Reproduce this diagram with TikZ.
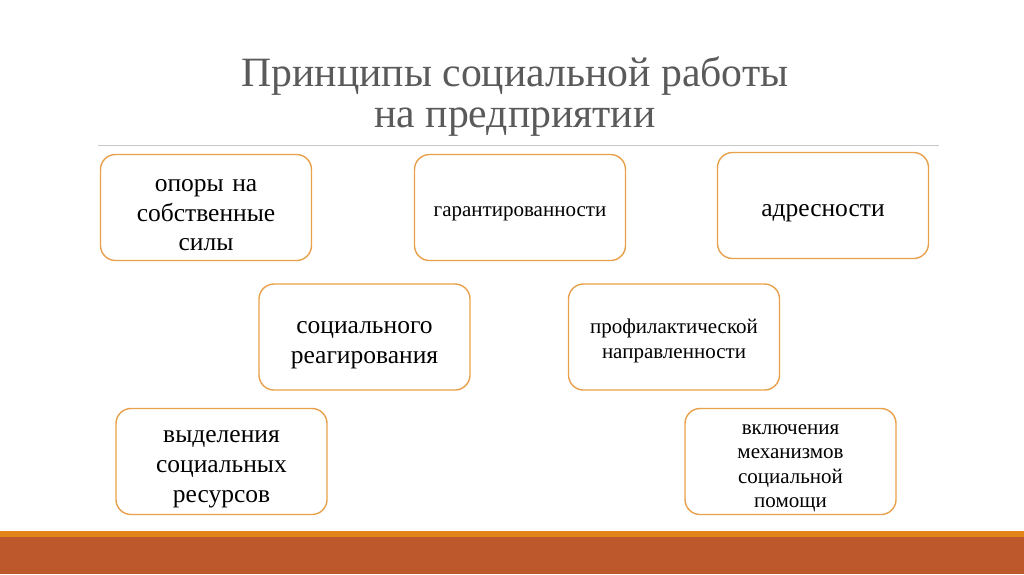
\documentclass[tikz,border=0pt]{standalone}
\usepackage{fontspec}
\setmainfont{Liberation Serif}
\usetikzlibrary{positioning}
\definecolor{boxLine}{HTML}{E8A04A}
\definecolor{titleGray}{HTML}{5A5A5A}
\definecolor{ruleGray}{HTML}{C8C8C8}
\definecolor{barLight}{HTML}{E2841A}
\definecolor{barDark}{HTML}{BD582C}
\tikzset{
    principle/.style = {
        draw=boxLine, line width=1.4pt, rounded corners=15pt,
        fill=white, align=center,
        minimum width=211pt, minimum height=106pt,
        text width=205pt, inner sep=0pt,
        font=\fontsize{25.5}{29.5}\selectfont,
        execute at begin node={\rule{0pt}{1.1em}}
    },
    smallprinciple/.style = {
        principle, font=\fontsize{21}{#1}\selectfont
    },
    smallprinciple/.default={25}
}

\begin{document}
\begin{tikzpicture}[x=1pt, y=-1pt]
    \useasboundingbox (0,0) rectangle (1024,574);
    \fill[white] (0,0) rectangle (1024,574);
    % bottom bars
    \fill[barLight] (0,531) rectangle (1024,537);
    \fill[barDark] (0,537) rectangle (1024,574);
    % title and rule
    \node[align=center, text=titleGray, font=\fontsize{41.7}{41}\selectfont] (title) at (515,97)
        {Принципы социальной работы\\на предприятии};
    \coordinate (ruleL) at (98,145);
    \coordinate (ruleR) at (939,145);
    \draw[ruleGray, line width=0.8pt] (ruleL) -- (ruleR);
    % principles
    \node[principle] (P1) at (206,207.5) {опоры на\\собственные\\силы};
    \node[smallprinciple] (P2) at (520,207.5) {гарантированности};
    \node[principle] (P3) at (823,205.5) {адресности};
    \node[principle] (P4) at (364.5,337) {социального\\реагирования};
    \node[smallprinciple] (P5) at (674,337) {профилактической\\направленности};
    \node[principle, font=\fontsize{25.5}{30}\selectfont] (P6) at (221.5,461.5) {выделения\\социальных\\ресурсов};
    \node[smallprinciple=24.5] (P7) at (790.5,461.5) {включения\\механизмов\\социальной\\помощи};
\end{tikzpicture}
\end{document}
